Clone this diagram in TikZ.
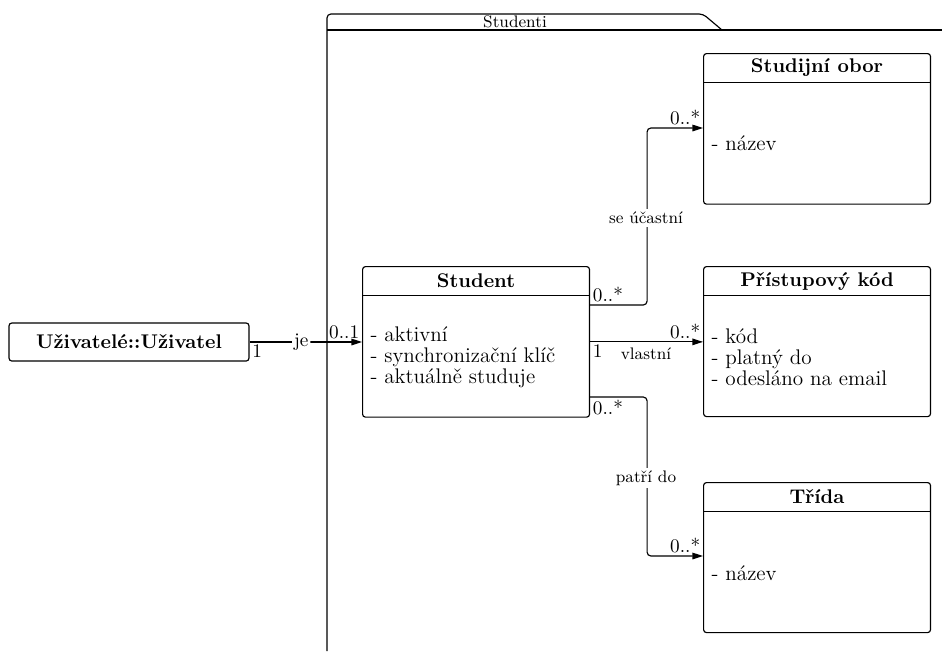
\documentclass[tikz,border=0pt]{standalone}
\usetikzlibrary{calc,arrows.meta}
\begin{document}
\begin{tikzpicture}[x=0.52pt,y=-0.52pt,line width=0.6pt,
  classbox/.style={draw, rounded corners=1.5pt, minimum width=118pt,
    minimum height=78.3pt, anchor=north west, inner sep=0pt},
  classname/.style={font=\fontsize{10.3}{12}\bfseries\selectfont, inner sep=0pt},
  attrs/.style={align=left, anchor=west, inner sep=0pt,
    font=\fontsize{11}{10.9}\selectfont},
  mult/.style={inner sep=1.2pt},
  assoc/.style={-{Triangle[length=5.5pt,width=3.4pt]}, rounded corners=2pt},
  rolelabel/.style={fill=white, inner sep=1.5pt, font=\fontsize{8.7}{10}\selectfont}]
\useasboundingbox (0,0) rectangle (942,651);

% package frame with its tab
\draw[rounded corners=2pt] (327,651) -- (327,14) -- (703,14) -- (722,30);
\draw (327,30) -- (942,30);
\node[font=\fontsize{8.7}{10}\selectfont, inner sep=0pt] (pkg) at (515,22) {Studenti};

% external class
\node[draw, rounded corners=1.5pt, minimum width=124.8pt, minimum height=19.8pt,
  font=\fontsize{10.3}{12}\bfseries\selectfont] (uziv) at (129,342) {Uživatelé::Uživatel};

% classes
\node[classbox] (stu) at (362,266) {};
\node[classbox] (obor) at (703,53) {};
\node[classbox, minimum height=78pt] (kod) at (703,266) {};
\node[classbox, minimum height=78pt] (trida) at (703,482) {};

\foreach \c in {stu,obor,kod,trida}
  \draw ($(\c.north west)+(0,29.5)$) -- ($(\c.north east)+(0,29.5)$);

\node[classname] (stuT) at ($(stu.north)+(0,15)$) {Student};
\node[classname] (oborT) at ($(obor.north)+(0,15)$) {Studijní obor};
\node[classname] (kodT) at ($(kod.north)+(0,15)$) {Přístupový kód};
\node[classname] (tridaT) at ($(trida.north)+(0,15)$) {Třída};

\node[attrs] (stuA) at ($(stu.north west)+(8,91)$)
  {- aktivní\\- synchronizační klíč\\- aktuálně studuje};
\node[attrs] (oborA) at ($(obor.north west)+(8,90)$) {- název};
\node[attrs] (kodA) at ($(kod.north west)+(8,91)$)
  {- kód\\- platný do\\- odesláno na email};
\node[attrs] (tridaA) at ($(trida.north west)+(8,91)$) {- název};

% je
\draw[assoc] (uziv.east) -- node[fill=white, inner sep=1pt, pos=0.46] (je) {je}
  (uziv.east -| stu.west);
\node[mult, anchor=north west] (mJe1) at (uziv.east) {1};
\node[mult, anchor=south east] (mJe2) at (uziv.east -| stu.west) {0..1};

% se účastní
\coordinate (s1) at ($(stu.north east)+(0,39)$);
\coordinate (o1) at ($(obor.north west)+(0,75)$);
\draw[assoc] (s1) -- ++(57,0) |- (o1);
\node[rolelabel] (lUc) at (646,218) {se účastní};
\node[mult, anchor=south west] (mUc1) at (s1) {0..*};
\node[mult, anchor=south east] (mUc2) at (o1) {0..*};

% vlastní
\draw[assoc] (stu.east) -- (stu.east -| kod.west);
\node[mult, anchor=north west] (mVl1) at (stu.east) {1};
\node[rolelabel, fill=none, anchor=north] (lVl) at (646,344) {vlastní};
\node[mult, anchor=south east] (mVl2) at (stu.east -| kod.west) {0..*};

% patří do
\coordinate (s3) at ($(stu.north east)+(0,131)$);
\coordinate (t3) at ($(trida.north west)+(0,74)$);
\draw[assoc] (s3) -- ++(57,0) |- (t3);
\node[rolelabel] (lPd) at (646,478) {patří do};
\node[mult, anchor=north west] (mPd1) at (s3) {0..*};
\node[mult, anchor=south east] (mPd2) at (t3) {0..*};
\end{tikzpicture}
\end{document}
